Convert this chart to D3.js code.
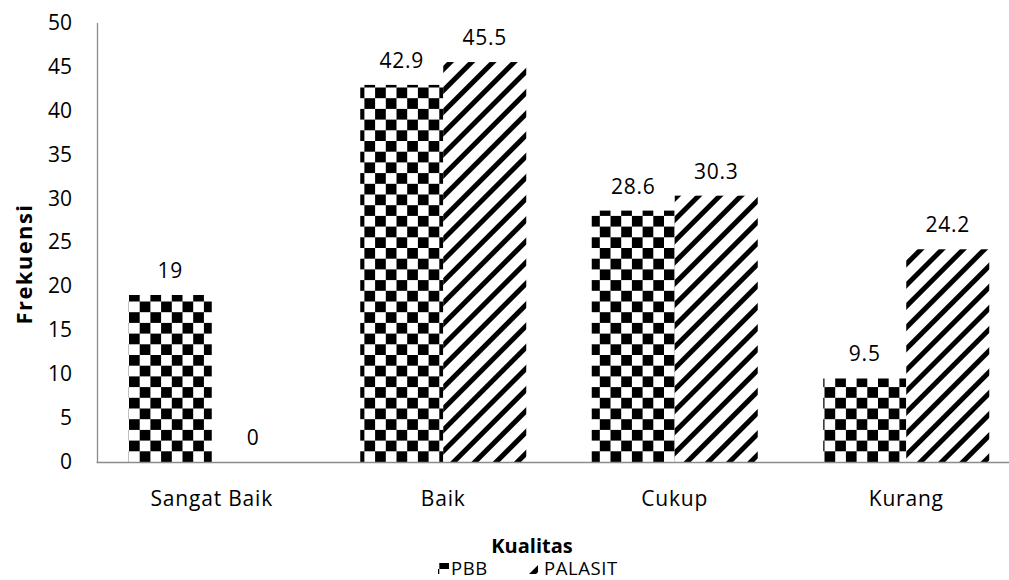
<!DOCTYPE html>
<html><head><meta charset="utf-8">
<script src="https://cdn.jsdelivr.net/npm/d3@7"></script>
<style>body{margin:0;background:#fff}svg{display:block}</style>
</head><body>
<svg id="c" width="1009" height="580"></svg>
<script>
const categories = ["Sangat Baik", "Baik", "Cukup", "Kurang"];
const seriesNames = ["PBB", "PALASIT"];
const pbbValues = [19, 42.9, 28.6, 9.5];
const palasitValues = [0, 45.5, 30.3, 24.2];
const yTicks = [0, 5, 10, 15, 20, 25, 30, 35, 40, 45, 50];
const labelFormat = ["19", "42.9", "28.6", "9.5"];
const labelFormat2 = ["0", "45.5", "30.3", "24.2"];

const svg = d3.select("#c");
const font = "'Open Sans', sans-serif";
const defs = svg.append("defs");

// checkerboard
const cs = 10.7;
const chk = defs.append("pattern").attr("id","chk").attr("patternUnits","userSpaceOnUse")
  .attr("width", cs*2).attr("height", cs*2).attr("x", 129).attr("y", 462);
chk.append("rect").attr("width", cs*2).attr("height", cs*2).attr("fill","#fff");
chk.append("rect").attr("x",0).attr("y",0).attr("width",cs).attr("height",cs).attr("fill","#000");
chk.append("rect").attr("x",cs).attr("y",cs).attr("width",cs).attr("height",cs).attr("fill","#000");

// diagonal stripes "/"
const sp = 15;
const dg = defs.append("pattern").attr("id","dg").attr("patternUnits","userSpaceOnUse")
  .attr("width", sp).attr("height", sp).attr("patternTransform","rotate(45)");
dg.append("rect").attr("width", sp).attr("height", sp).attr("fill","#fff");
dg.append("rect").attr("x",0).attr("y",0).attr("width",5).attr("height",sp).attr("fill","#000");

const x0 = d3.scaleBand().domain(categories).range([96, 1022]).paddingInner(0).paddingOuter(0);
const barW = 83;
const x1 = d3.scaleBand().domain(seriesNames).range([0, barW*2]);
const y = d3.scaleLinear().domain([0, 50]).range([462, 22.5]);

const data = categories.map((c,i)=>({cat:c, vals:[pbbValues[i], palasitValues[i]], labs:[labelFormat[i], labelFormat2[i]]}));
const fills = ["url(#chk)", "url(#dg)"];

const g = svg.append("g");
data.forEach(d=>{
  const gx = x0(d.cat) + x0.bandwidth()/2 - barW;
  seriesNames.forEach((s,j)=>{
    const v = d.vals[j];
    g.append("rect").attr("x", gx + x1(s)).attr("y", y(v)).attr("width", x1.bandwidth())
      .attr("height", y(0)-y(v)).attr("fill", fills[j]);
    g.append("text").attr("x", gx + x1(s) + x1.bandwidth()/2).attr("y", y(v) - 17)
      .attr("text-anchor","middle").attr("font-family",font).attr("font-size",21)
      .attr("letter-spacing",0.8).attr("fill","#000")
      .text(d.labs[j]);
  });
});

// axes
const yAxis = svg.append("g").attr("transform","translate(97,0)")
  .call(d3.axisLeft(y).tickValues(yTicks).tickSize(0).tickPadding(25).tickFormat(d3.format("d")));
yAxis.select(".domain").attr("stroke","#8c8c8c").attr("stroke-width",1.3);
yAxis.selectAll("text").attr("font-family",font).attr("font-size",21).attr("fill","#000");

const xAxis = svg.append("g").attr("transform","translate(0,462)")
  .call(d3.axisBottom(x0).tickSize(0).tickPadding(29));
xAxis.select(".domain").attr("stroke","#8c8c8c").attr("stroke-width",1.3);
xAxis.selectAll("text").attr("font-family",font).attr("font-size",21).attr("letter-spacing",0.8).attr("fill","#000");

svg.append("text").attr("transform","translate(32,264) rotate(-90)").attr("text-anchor","middle")
  .attr("font-family",font).attr("font-weight","bold").attr("font-size",22)
  .attr("letter-spacing",1.4).text("Frekuensi");
svg.append("text").attr("x",532).attr("y",553).attr("text-anchor","middle")
  .attr("font-family",font).attr("font-weight","bold").attr("font-size",20).text("Kualitas");

// legend
const lg = svg.append("g");
const legendItems = [{n:seriesNames[0], f:"url(#chk)", x:438, tx:451},{n:seriesNames[1], f:"url(#dg)", x:527, tx:544}];
legendItems.forEach(it=>{
  lg.append("rect").attr("x",it.x).attr("y",563).attr("width",11).attr("height",11).attr("fill",it.f);
  lg.append("text").attr("x",it.tx).attr("y",575).attr("font-family",font).attr("font-size",18.5)
    .attr("letter-spacing",0.6).text(it.n);
});
</script>
</body></html>
